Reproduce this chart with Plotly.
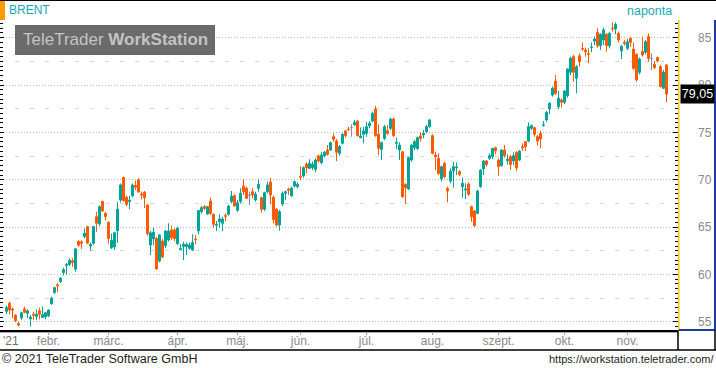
import plotly.graph_objects as go

# ---------------- data ----------------
symbol = "BRENT"
period_label = "naponta"
year_label = "'21"
month_labels = ["febr.", "márc.", "ápr.", "máj.", "jún.", "júl.", "aug.", "szept.", "okt.", "nov."]
month_start_idx = [14, 34, 57, 77, 98, 120, 142, 164, 186, 207]

opens = [
    56.1, 56.95, 56.35, 55.7, 54.8, 55.4, 56.35, 55.9, 55.3, 55.8, 55.55, 56.15, 55.45, 55.5,
    55.65, 56.9, 58.1, 58.9, 59.25, 60.2, 60.95, 61.05, 61.45, 60.55, 63.5, 63.45, 64.0, 65.05,
    63.0, 63.3, 66.1, 65.35, 67.7, 66.45, 65.5, 62.8, 62.9, 64.6, 67.85, 70.25, 68.15, 67.7, 68.3,
    69.4, 70.0, 68.5, 68.67, 67.33, 63.1, 63.75, 63.8, 61.42, 63.53, 63.04, 63.64, 64.7, 64.7,
    63.25, 62.62, 62.94, 62.94, 62.76, 62.58, 63.74,
    64.59, 66.63, 67.16, 66.38, 67.76, 66.35, 65.19, 65.57, 65.4, 66.21, 66.35, 67.69, 68.32,
    66.77, 67.69, 69.34, 69.1, 68.36, 68.74, 67.86, 69.1, 68.11, 66.88, 68.74,
    69.75, 68.15, 66.88, 65.22, 67.44, 68.57, 69.0, 68.3, 69.34, 69.27,
    70.33, 70.4, 71.66, 71.2, 71.28, 71.1, 72.51, 71.8, 72.51, 73.14, 73.14, 74.55, 74.1, 72.79,
    73.85, 75.15, 75.35, 75.5, 75.78, 76.2, 74.45, 74.8, 74.9, 75.68, 76.2, 77.47, 74.8, 73.21,
    74.37, 75.18, 75.43, 76.41, 73.85, 73.14,
    72.96, 69.51, 69.02, 72.08, 73.38, 73.31, 74.62, 74.73, 75.07, 75.6, 74.65, 72.61, 72.26,
    70.08, 71.73, 69.09, 69.86, 70.92, 71.27, 70.85, 69.27, 68.92, 69.55, 67.15, 66.7, 66.45,
    69.27, 71.13, 71.98, 72.26, 72.43, 73.38, 72.08, 71.48, 73.14, 72.01, 72.43, 71.98, 72.89,
    72.08, 73.49, 74.02, 74.09, 75.43, 75.5, 74.55,
    74.9, 75.75, 76.31, 77.47, 78.95, 80.43, 77.72, 78.43, 78.18, 78.88, 81.35, 83.0, 80.71,
    83.1, 83.85, 83.7, 83.3, 83.95, 84.65, 85.57, 84.16, 84.76, 85.36, 84.16, 86.0, 85.92,
    85.46, 83.6, 84.51, 83.88, 84.94, 83.81, 83.25, 81.35, 83.53, 83.46, 85.11, 82.82, 82.19,
    82.9, 81.94, 79.66, 82.12,
]
highs = [
    56.7, 57.1, 56.5, 55.8, 55.0, 56.05, 56.6, 56.3, 55.7, 56.05, 56.3, 56.5, 56.6, 56.05,
    56.3, 57.65, 58.7, 59.1, 59.7, 60.7, 61.2, 61.7, 61.7, 62.8, 63.6, 63.6, 64.85, 65.1,
    63.35, 65.1, 66.6, 67.3, 67.8, 66.6, 65.6, 64.3, 64.5, 67.65, 69.6, 70.3, 68.3, 68.3, 69.6,
    69.9, 70.15, 68.75, 68.8, 67.4, 64.6, 64.94, 63.96, 64.24, 63.74, 64.7, 65.4, 65.15, 64.87,
    65.05, 63.18, 63.46, 63.4, 63.39, 64.24, 64.17,
    66.81, 67.23, 67.33, 67.23, 68.11, 66.45, 65.64, 66.35, 66.1, 66.45, 67.33, 68.81, 68.46,
    67.86, 69.1, 70.04, 69.27, 68.74, 69.1, 68.74, 70.04, 68.21, 68.74, 69.8,
    70.2, 68.3, 67.0, 66.8, 68.74, 68.85, 69.17, 69.27, 69.9, 69.73,
    71.4, 71.4, 71.84, 72.16, 71.91, 72.26, 72.68, 72.9, 73.04, 73.67, 74.02, 74.9, 74.3, 73.67,
    74.9, 75.25, 75.6, 75.85, 76.31, 76.31, 75.53, 75.6, 76.13, 76.2, 77.19, 77.79, 75.85, 74.02,
    75.78, 75.78, 76.56, 76.56, 74.45, 73.95,
    73.03, 69.62, 72.43, 73.74, 74.2, 74.55, 75.0, 75.25, 75.78, 76.41, 74.8, 72.96, 72.79,
    71.48, 71.9, 69.27, 71.2, 71.9, 71.84, 71.03, 70.22, 69.62, 69.73, 67.26, 66.8, 68.92,
    71.13, 72.08, 72.08, 72.79, 73.38, 73.49, 72.26, 73.24, 73.67, 72.68, 72.61, 72.89, 73.03,
    73.14, 73.84, 74.09, 76.06, 75.85, 75.6, 74.73,
    75.15, 76.2, 77.26, 78.18, 79.83, 81.06, 79.37, 78.6, 79.48, 81.77, 83.0, 83.18, 82.12,
    83.35, 84.51, 83.95, 83.88, 84.51, 85.11, 85.99, 85.46, 86.06, 85.46, 85.64, 86.63, 86.63,
    85.64, 84.23, 84.76, 84.86, 85.11, 84.51, 83.35, 82.9, 85.11, 84.76, 85.46, 83.35, 82.54,
    83.0, 82.12, 81.59, 82.19,
]
lows = [
    55.8, 55.8, 55.4, 55.0, 54.55, 55.2, 55.9, 55.4, 54.5, 55.2, 55.2, 55.25, 55.4, 55.25,
    55.5, 56.8, 57.95, 58.1, 59.1, 59.9, 60.0, 60.9, 60.8, 60.3, 62.9, 62.7, 63.8, 63.2,
    62.5, 63.15, 64.5, 65.1, 66.6, 65.7, 63.25, 62.7, 62.6, 63.35, 67.6, 67.7, 67.2, 66.9, 68.15,
    68.9, 68.67, 67.93, 67.0, 64.1, 62.05, 63.1, 60.47, 61.28, 61.7, 62.76, 63.46, 63.64, 63.53,
    63.11, 62.58, 61.53, 62.05, 62.58, 62.48, 63.18,
    64.24, 66.45, 66.81, 66.28, 66.28, 64.94, 64.59, 64.94, 64.59, 65.64, 66.21, 67.51, 67.16,
    66.63, 67.51, 68.39, 67.97, 67.33, 68.04, 67.69, 68.74, 66.52, 66.7, 68.57,
    67.4, 65.4, 65.05, 64.63, 67.2, 67.86, 68.4, 68.22, 69.17, 69.1,
    69.97, 70.22, 70.68, 71.13, 71.03, 70.78, 71.84, 71.66, 72.37, 72.54, 73.04, 74.02, 71.98, 72.54,
    73.74, 74.45, 75.15, 74.55, 75.71, 74.55, 74.37, 73.85, 74.55, 75.43, 76.06, 74.55, 72.61, 72.09,
    74.2, 74.73, 75.25, 74.55, 73.25, 72.09,
    68.1, 67.44, 68.92, 71.9, 73.14, 73.14, 74.02, 74.37, 74.9, 75.5, 72.68, 71.03, 70.5,
    69.8, 70.15, 67.61, 69.62, 69.16, 70.5, 70.39, 68.1, 67.96, 68.32, 65.57, 65.04, 66.35,
    69.16, 70.5, 71.38, 72.08, 72.19, 72.68, 70.43, 71.38, 72.33, 71.62, 71.03, 71.55, 70.92,
    71.98, 73.03, 73.03, 73.95, 75.25, 74.55, 73.6,
    73.32, 75.61, 76.13, 76.91, 78.78, 78.95, 77.47, 77.61, 77.97, 78.67, 81.06, 80.36, 79.13,
    81.94, 83.6, 83.0, 82.3, 83.46, 84.23, 83.95, 83.7, 84.23, 83.53, 83.88, 85.64, 85.36,
    84.51, 82.75, 84.16, 83.7, 84.06, 81.59, 80.36, 81.13, 83.0, 83.25, 82.47, 81.59, 81.7,
    82.4, 79.73, 79.59, 78.18,
]
closes = [
    56.5, 56.25, 56.25, 55.1, 54.65, 55.95, 56.0, 56.15, 55.5, 55.7, 55.8, 55.8, 55.75, 55.95,
    56.25, 57.5, 58.6, 58.8, 59.6, 60.5, 61.05, 61.5, 61.25, 62.7, 63.1, 63.3, 64.35, 63.3,
    63.15, 65.05, 65.4, 67.15, 66.7, 66.1, 63.8, 63.6, 64.4, 66.9, 69.45, 67.8, 67.4, 67.85, 69.45,
    69.2, 68.7, 68.4, 68.1, 64.3, 64.4, 64.45, 60.58, 64.17, 61.84, 64.59, 64.59, 63.88, 63.8,
    64.9, 62.72, 63.18, 63.18, 63.11, 63.36, 63.67,
    66.74, 67.05, 66.98, 67.16, 66.45, 65.29, 65.29, 65.86, 65.86, 66.14, 67.23, 68.28, 67.23,
    67.58, 68.57, 68.74, 68.04, 68.36, 68.39, 68.46, 69.52, 66.88, 68.64, 69.45,
    68.4, 65.8, 65.22, 66.63, 68.57, 68.74, 68.9, 69.1, 69.8, 69.52,
    70.28, 71.28, 71.28, 71.73, 71.63, 72.09, 71.98, 72.6, 72.9, 72.68, 73.92, 74.27, 72.9, 73.5,
    74.8, 74.66, 75.3, 75.5, 76.06, 74.66, 74.62, 75.15, 75.6, 75.96, 77.01, 74.66, 73.32, 73.92,
    75.6, 74.9, 76.41, 74.66, 73.92, 73.67,
    68.21, 69.16, 72.33, 73.67, 74.02, 74.44, 74.37, 74.9, 75.6, 76.31, 72.79, 72.43, 70.67,
    71.38, 70.32, 68.81, 70.92, 71.38, 71.34, 70.57, 69.62, 69.02, 68.46, 66.1, 65.15, 68.81,
    71.03, 71.98, 71.62, 72.54, 73.31, 73.03, 71.38, 73.14, 72.54, 72.15, 71.62, 72.54, 71.27,
    73.03, 73.38, 73.49, 75.6, 75.71, 74.8, 74.09,
    74.3, 75.78, 77.12, 78.07, 79.66, 79.13, 78.6, 78.18, 79.37, 81.7, 82.82, 81.35, 81.94,
    82.47, 83.8, 83.53, 83.25, 83.99, 84.86, 84.16, 85.36, 85.82, 84.16, 85.46, 85.95, 86.41,
    84.76, 84.06, 84.41, 84.58, 84.51, 81.77, 80.54, 82.75, 83.18, 84.58, 82.82, 82.82, 81.84,
    82.54, 79.83, 81.35, 79.05,
]

# ---------------- styling ----------------
FONT = "Liberation Sans, Arial, sans-serif"
UP, DOWN, FLAT = "#00a398", "#ff5a00", "#8c8c8c"
TEAL_TXT = "#17a9b9"
GRAY_TXT = "#8a8a8a"

W, H = 716, 368
PX_L, PX_R, PX_T, PX_B = 0, 678, 22, 330      # plot area in pixels
STEP, FIRST = 3.0, 6.5                         # candle spacing / first candle centre (px)
Y_TOP, Y_BOT = 86.66, 54.13


def fx(px):
    return (px - PX_L) / (PX_R - PX_L)


def fy(py):
    return (PX_B - py) / (PX_B - PX_T)


n = len(closes)
idx = list(range(n))
groups = {
    UP: [i for i in idx if closes[i] > opens[i]],
    DOWN: [i for i in idx if closes[i] < opens[i]],
    FLAT: [i for i in idx if closes[i] == opens[i]],
}

fig = go.Figure()
for col, sel in groups.items():
    fig.add_trace(go.Candlestick(
        x=[idx[i] for i in sel],
        open=[opens[i] for i in sel],
        high=[highs[i] for i in sel],
        low=[lows[i] for i in sel],
        close=[closes[i] for i in sel],
        increasing=dict(line=dict(color=col, width=1), fillcolor=col),
        decreasing=dict(line=dict(color=col, width=1), fillcolor=col),
        whiskerwidth=0,
        hoverinfo="skip",
        showlegend=False,
        yaxis="y",
    ))

x_lo = (PX_L - FIRST) / STEP
x_hi = (PX_R - FIRST) / STEP

fig.update_layout(
    width=W, height=H, autosize=False,
    margin=dict(l=PX_L, r=W - PX_R, t=PX_T, b=H - PX_B, pad=0),
    paper_bgcolor="white", plot_bgcolor="white",
    font=dict(family=FONT, size=12, color=GRAY_TXT),
    boxgap=0.35, boxgroupgap=0.0,
    showlegend=False,
    xaxis=dict(
        range=[x_lo, x_hi], rangeslider=dict(visible=False),
        tickmode="array", tickvals=month_start_idx, ticktext=month_labels,
        ticks="outside", ticklen=3, tickcolor="#9a9a9a",
        tickfont=dict(family=FONT, size=12, color=GRAY_TXT),
        ticklabelstandoff=-4,
        showgrid=False, zeroline=False,
        showline=True, linecolor="black", linewidth=2,
        fixedrange=True,
    ),
    yaxis=dict(
        side="right", range=[Y_BOT, Y_TOP], tick0=0, dtick=5,
        showgrid=True, gridcolor="#bdbdbd", griddash="1px,2px", gridwidth=1,
        zeroline=False, showline=False,
        ticks="inside", ticklen=5, tickcolor="black", tickwidth=1,
        minor=dict(dtick=0.5, ticks="inside", ticklen=3, tickcolor="black", showgrid=False),
        tickfont=dict(family=FONT, size=12, color=GRAY_TXT),
        ticklabelstandoff=19,
        fixedrange=True,
    ),
    yaxis2=dict(
        overlaying="y", side="left", anchor="x", range=[Y_BOT, Y_TOP], tick0=0, dtick=5,
        showgrid=False, zeroline=False, showticklabels=False,
        showline=True, linecolor="black", linewidth=2,
        ticks="inside", ticklen=4, tickcolor="black",
        minor=dict(dtick=0.5, ticks="inside", ticklen=3, tickcolor="black", showgrid=False),
        fixedrange=True,
    ),
    yaxis3=dict(
        overlaying="y", side="left", anchor="x", range=[Y_BOT, Y_TOP], tick0=2.5, dtick=5,
        showgrid=True, gridcolor="#d6d6d6", griddash="4px,11px", gridwidth=1,
        zeroline=False, showticklabels=False, showline=False, ticks="",
        fixedrange=True,
    ),
)
# invisible helper traces to activate the overlay axes
fig.add_trace(go.Scatter(x=[x_lo], y=[Y_BOT], yaxis="y2", mode="markers",
                         marker=dict(opacity=0), hoverinfo="skip", showlegend=False))
fig.add_trace(go.Scatter(x=[x_lo], y=[Y_BOT], yaxis="y3", mode="markers",
                         marker=dict(opacity=0), hoverinfo="skip", showlegend=False))

shapes = [
    # top frame line
    dict(type="line", xref="paper", yref="paper", x0=fx(0), x1=fx(W), y0=fy(0.5), y1=fy(0.5),
         line=dict(color="black", width=1)),
    # orange symbol marker
    dict(type="rect", xref="paper", yref="paper", x0=fx(0), x1=fx(5), y0=fy(1), y1=fy(20),
         fillcolor="#ff9a00", line=dict(width=0)),
    # watermark box
    dict(type="rect", xref="paper", yref="paper", x0=fx(15), x1=fx(215), y0=fy(25), y1=fy(55),
         fillcolor="#6b6b6b", line=dict(width=0), layer="above"),
    # right axis panel: yellow left edge, blue right/bottom edges
    dict(type="line", xref="paper", yref="paper", x0=fx(678.7), x1=fx(678.7), y0=fy(20), y1=fy(330),
         line=dict(color="#f2c418", width=1.6)),
    dict(type="line", xref="paper", yref="paper", x0=fx(715), x1=fx(715), y0=fy(20), y1=fy(330),
         line=dict(color="#1c3c9c", width=2)),
    dict(type="line", xref="paper", yref="paper", x0=fx(679), x1=fx(716), y0=fy(330), y1=fy(330),
         line=dict(color="#1c3c9c", width=2)),
    # x-axis strip lines
    dict(type="line", xref="paper", yref="paper", x0=fx(0), x1=fx(678), y0=fy(332.5), y1=fy(332.5),
         line=dict(color="#a8a8a8", width=1)),
    dict(type="line", xref="paper", yref="paper", x0=fx(0), x1=fx(W), y0=fy(350), y1=fy(350),
         line=dict(color="black", width=1.5)),
    dict(type="line", xref="paper", yref="paper", x0=fx(678), x1=fx(678), y0=fy(330), y1=fy(350),
         line=dict(color="black", width=1.5)),
    dict(type="line", xref="paper", yref="paper", x0=fx(715), x1=fx(715), y0=fy(330), y1=fy(350),
         line=dict(color="black", width=1.5)),
]

annotations = [
    dict(text=symbol, xref="paper", yref="paper", x=fx(7), y=fy(10.5), xanchor="left", yanchor="middle",
         showarrow=False, font=dict(family=FONT, size=12, color=TEAL_TXT)),
    dict(text=period_label, xref="paper", yref="paper", x=fx(674), y=fy(11), xanchor="right", yanchor="middle",
         showarrow=False, font=dict(family=FONT, size=12.5, color=TEAL_TXT)),
    dict(text="TeleTrader <b>WorkStation</b>", xref="paper", yref="paper", x=fx(115), y=fy(40),
         xanchor="center", yanchor="middle", showarrow=False,
         font=dict(family=FONT, size=17, color="#c4c4c4")),
    dict(text=year_label, xref="paper", yref="paper", x=fx(1), y=fy(341), xanchor="left", yanchor="middle",
         showarrow=False, font=dict(family=FONT, size=12, color="#6e6e6e")),
    dict(text="© 2021 TeleTrader Software GmbH", xref="paper", yref="paper", x=fx(0), y=fy(359),
         xanchor="left", yanchor="middle", showarrow=False,
         font=dict(family=FONT, size=12.5, color="#1e1e1e")),
    dict(text="https://workstation.teletrader.com/", xref="paper", yref="paper", x=fx(716), y=fy(359),
         xanchor="right", yanchor="middle", showarrow=False,
         font=dict(family=FONT, size=11, color="#1e1e1e")),
    # last price marker on the right axis
    dict(text=f"{closes[-1]:.2f}".replace(".", ","), xref="paper", yref="y", x=fx(679.5), y=closes[-1],
         xanchor="left", yanchor="middle", showarrow=False, bgcolor="black",
         width=31, height=16, borderpad=1,
         font=dict(family=FONT, size=12.5, color="white")),
]

fig.update_layout(shapes=shapes, annotations=annotations)
fig.write_html(
    "out.html",
    config={"displayModeBar": False, "staticPlot": True},
    post_script="document.body.style.margin='0';document.body.style.padding='0';"
                "document.body.style.overflow='hidden';",
)
